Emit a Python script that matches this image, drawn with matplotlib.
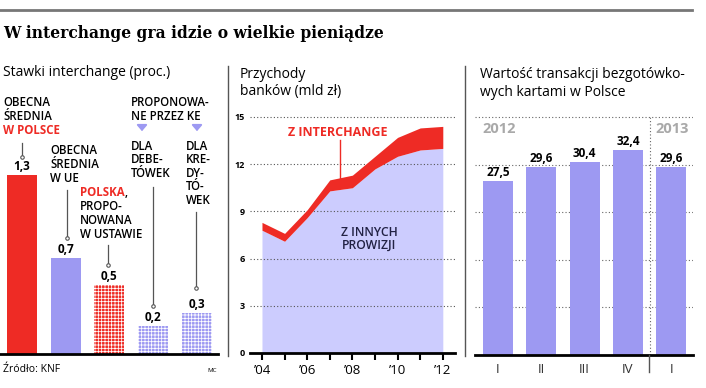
import numpy as np
import matplotlib
matplotlib.use("Agg")
import matplotlib.pyplot as plt

plt.rcParams['font.family'] = ['Open Sans', 'DejaVu Sans']
plt.rcParams['hatch.linewidth'] = 0.55

# ── data ─────────────────────────────────────────────────────────────────────
rate_values = [1.3, 0.7, 0.5, 0.2, 0.3]
rate_labels = ["1,3", "0,7", "0,5", "0,2", "0,3"]

years = [2004, 2005, 2006, 2007, 2008, 2009, 2010, 2011, 2012]
other_fees = [7.8, 7.1, 8.6, 10.3, 10.5, 11.7, 12.5, 12.9, 13.0]
total_fees = [8.3, 7.6, 9.1, 11.0, 11.3, 12.5, 13.7, 14.3, 14.4]

quarters = ["I", "II", "III", "IV", "I"]
card_values = [27.5, 29.6, 30.4, 32.4, 29.6]
card_labels = ["27,5", "29,6", "30,4", "32,4", "29,6"]

RED = "#ee2b25"
BLUE = "#9d99f2"
LIGHT = "#ccccfe"
GRAY = "#a9a9a9"

W, H = 706, 388
fig = plt.figure(figsize=(W / 100, H / 100), dpi=100)


def box(x0, x1, ytop, ybot):
    return [x0 / W, 1 - ybot / H, (x1 - x0) / W, (ybot - ytop) / H]


def clean(ax):
    for s in ["top", "right", "left"]:
        ax.spines[s].set_visible(False)
    ax.spines["bottom"].set_linewidth(2)
    ax.spines["bottom"].set_color("black")


# ── panel 1: stawki ──────────────────────────────────────────────────────────
ax1 = fig.add_axes(box(0, 218, 140, 354))
clean(ax1)
x1 = np.arange(len(rate_values))
ax1.bar(x1[0], rate_values[0], width=0.69, color=RED, zorder=2)
ax1.bar(x1[1], rate_values[1], width=0.69, color=BLUE, zorder=2)
ax1.bar(x1[2], rate_values[2], width=0.69, color=RED, edgecolor="white",
        hatch="+++++", linewidth=0, zorder=2)
ax1.bar(x1[3:], rate_values[3:], width=0.69, color=BLUE, edgecolor="white",
        hatch="+++++", linewidth=0, zorder=2)
ax1.set_xlim(-0.505, 4.49)
ax1.set_ylim(0, (354 - 140) / 137.7)
ax1.set_xticks([])
ax1.set_yticks([])
ax1.patch.set_alpha(0)
for xi, v, lab in zip(x1, rate_values, rate_labels):
    ax1.annotate(lab, (xi, v), xytext=(0, 1.5), textcoords="offset points",
                 ha="center", va="bottom", fontsize=8.5, fontweight="bold")

# ── panel 2: przychody ───────────────────────────────────────────────────────
ax2 = fig.add_axes(box(250, 455, 113, 353))
clean(ax2)
ax2.fill_between(years, 0, other_fees, color=LIGHT, lw=0, zorder=1)
ax2.fill_between(years, other_fees, total_fees, color=RED, lw=0, zorder=3)
for g in [3, 6, 9, 12, 15]:
    ax2.axhline(g, color="#555555", lw=0.8, ls=(0, (1, 2)), zorder=2)
ax2.set_xlim(2003.47, 2012.54)
ax2.set_ylim(0, 15.25)
ax2.set_xticks(years)
ax2.set_xticklabels(["’%02d" % (y % 100) if y % 2 == 0 else "" for y in years],
                    fontsize=9.5)
ax2.tick_params(axis="x", length=5, width=1.5, pad=3)
ax2.set_yticks([0, 3, 6, 9, 12, 15])
ax2.set_yticklabels(["0", "3", "6", "9", "12", "15"], fontsize=6.5,
                    fontweight="bold")
ax2.tick_params(axis="y", length=0, pad=3.5)
ax2.patch.set_alpha(0)

# ── panel 3: wartość transakcji ──────────────────────────────────────────────
ax3 = fig.add_axes(box(475, 693, 113, 355))
clean(ax3)
x3 = np.arange(len(card_values))
for g in [7.5, 15, 22.5, 30, 37.5]:
    ax3.axhline(g, color="#666666", lw=0.8, ls=(0, (1, 2)), zorder=1)
ax3.axvline(3.5, ymax=37.5 / 38.2, color="#666666", lw=0.8, ls=(0, (1, 2)),
            zorder=1)
ax3.bar(x3, card_values, width=0.69, color=BLUE, zorder=2)
for xi, v, lab in zip(x3, card_values, card_labels):
    ax3.annotate(lab, (xi, v), xytext=(0, 1.5), textcoords="offset points",
                 ha="center", va="bottom", fontsize=8.5, fontweight="bold")
ax3.set_xlim(-0.53, 4.5)
ax3.set_ylim(0, 38.2)
ax3.set_xticks(x3)
ax3.set_xticklabels(quarters, fontsize=9.5, color="#333333")
ax3.tick_params(axis="x", length=0, pad=6)
ax3.set_yticks([])
ax3.patch.set_alpha(0)

# ── overlay in pixel coords for texts / rules ────────────────────────────────
ov = fig.add_axes([0, 0, 1, 1], zorder=10)
ov.set_xlim(0, W)
ov.set_ylim(H, 0)
ov.axis("off")
ov.patch.set_alpha(0)

ov.plot([0, 692], [10, 10], color="#777777", lw=2)
ov.text(3, 33, "W interchange gra idzie o wielkie pieniądze", fontsize=11.2,
        fontweight="bold", family="DejaVu Serif", va="center", ha="left")

# separators
ov.plot([228, 228], [66, 356], color="#555555", lw=1)
ov.plot([465, 465], [66, 356], color="#555555", lw=1)
ov.plot([649, 649], [355, 372], color="#555555", lw=1)

# panel titles
ov.text(3, 73, "Stawki interchange (proc.)", fontsize=10, va="center")
ov.text(240, 74, "Przychody", fontsize=10, va="center")
ov.text(240, 92, "banków (mld zł)", fontsize=10, va="center")
ov.text(480, 74, "Wartość transakcji bezgotówko-", fontsize=10, va="center")
ov.text(480, 92, "wych kartami w Polsce", fontsize=10, va="center")


def lines(x, y0, items, step=13.6, size=8.3, color="black", weight="semibold"):
    for i, t in enumerate(items):
        ov.text(x, y0 + i * step, t, fontsize=size, va="center", ha="left",
                color=color, fontweight=weight)


lines(3, 103, ["OBECNA", "ŚREDNIA"])
lines(3, 131, ["W POLSCE"], color=RED, weight="bold")
lines(50, 151, ["OBECNA", "ŚREDNIA", "W UE"])
t = ov.text(80, 193, "POLSKA", fontsize=8.3, va="center", color=RED,
            fontweight="bold")
ov.annotate(",", xy=(1, 0), xycoords=t, va="bottom", ha="left",
            fontsize=8.3, fontweight="semibold")
lines(80, 207, ["PROPO-", "NOWANA", "W USTAWIE"])
lines(131, 103, ["PROPONOWA-", "NE PRZEZ KE"])
lines(131, 146, ["DLA", "DEBE-", "TÓWEK"])
lines(186, 146, ["DLA", "KRE-", "DY-", "TÓ-", "WEK"])

# pointer lines with dots
for x, ya, yb in [(22, 143, 157), (67, 190, 238), (108, 245, 265),
                  (153, 187, 306), (196, 212, 288)]:
    ov.plot([x, x], [ya, yb], color="#555555", lw=0.9)
    ov.plot(x, yb, "o", ms=2.5, mfc="white", mec="#555555", mew=0.8)

# small down arrows
for x in [142, 197]:
    ov.annotate("", xy=(x, 134), xytext=(x, 124),
                arrowprops=dict(arrowstyle="-|>,head_width=0.3,head_length=0.35",
                                color=BLUE, lw=1.4))

ov.text(3, 370, "Źródło: KNF", fontsize=7.5, va="center")
ov.text(207, 371, "MC", fontsize=4.5, va="center")

# panel 2 annotations
ov.text(338, 133, "Z INTERCHANGE", fontsize=9, color=RED, fontweight="bold",
        ha="center", va="center")
ov.plot([340, 340], [140, 178], color=RED, lw=1)
ov.text(369, 232, "Z INNYCH", fontsize=8.8, ha="center", va="center",
        fontweight="semibold", color="#222244")
ov.text(369, 245, "PROWIZJI", fontsize=8.8, ha="center", va="center",
        fontweight="semibold", color="#222244")

# panel 3 year labels
ov.text(482, 129, "2012", fontsize=10.5, color=GRAY, fontweight="bold",
        va="center")
ov.text(655, 129, "2013", fontsize=10.5, color=GRAY, fontweight="bold",
        va="center")

fig.savefig("out.png", dpi=100)
